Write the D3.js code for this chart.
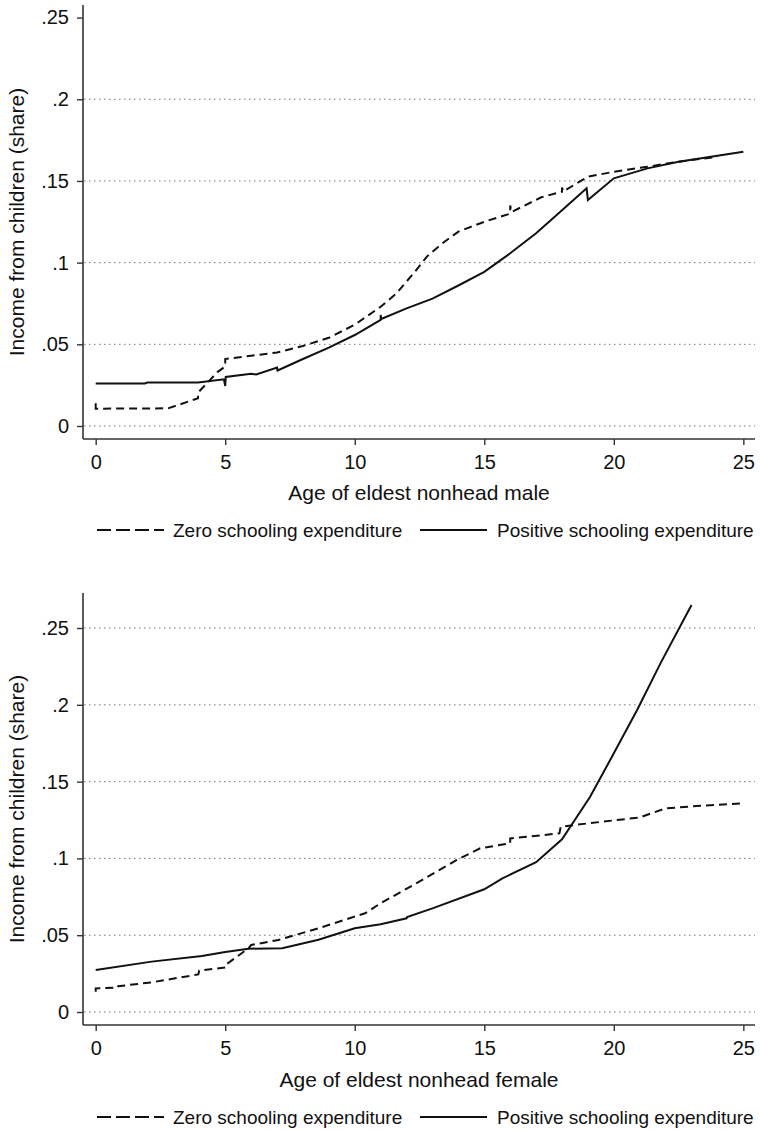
<!DOCTYPE html>
<html>
<head>
<meta charset="utf-8">
<script src="https://cdn.jsdelivr.net/npm/d3@7"></script>
<style>
  body { margin: 0; background: #fff; }
  svg { display: block; }
  text { font-family: "Liberation Sans", Arial, sans-serif; fill: #111; }
</style>
</head>
<body>
<svg id="chart" width="760" height="1130"></svg>
<script>
// ---------- DATA ----------
const xTicks = [0, 5, 10, 15, 20, 25];
const yTicksTop = [0, 0.05, 0.1, 0.15, 0.2, 0.25];
const yTickLabels = ["0", ".05", ".1", ".15", ".2", ".25"];
const yGridTop = [0, 0.05, 0.1, 0.15, 0.2];
const yGridBottom = [0, 0.05, 0.1, 0.15, 0.2, 0.25];
const seriesNames = ["Zero schooling expenditure", "Positive schooling expenditure"];
const yTitle = "Income from children (share)";
const xTitleTop = "Age of eldest nonhead male";
const xTitleBottom = "Age of eldest nonhead female";

// male panel: [age, share]
const maleZero = [
  [0,0.014],[0,0.0106],[2.8,0.0108],[3.3,0.0135],[3.95,0.017],[3.95,0.0204],
  [4.7,0.033],[5,0.0365],[5,0.041],[6,0.043],[7,0.045],[8,0.049],[9,0.054],
  [10,0.062],[11,0.073],[11.6,0.081],[12.3,0.094],[12.8,0.104],[13.4,0.112],
  [14,0.119],[15,0.125],[16,0.130],[16,0.135],[16.05,0.131],[17.2,0.140],
  [18,0.1434],[18,0.146],[18.05,0.1436],[19,0.1526],[20,0.1556],[21.3,0.1587],[22.5,0.1618],[24,0.1648]
];
const malePos = [
  [0,0.026],[1.9,0.026],[2,0.0267],[3.95,0.0267],[4.95,0.0286],[5,0.0245],
  [5.02,0.030],[6,0.032],[6.2,0.0315],[7,0.0357],[7.02,0.034],[8,0.041],
  [9,0.048],[10,0.0557],[11,0.065],[11,0.068],[11.02,0.0655],[12,0.072],[13,0.078],
  [14,0.086],[15,0.0944],[16,0.1057],[17,0.118],[18,0.132],[18.95,0.1455],
  [19,0.1383],[20,0.1516],[21.3,0.1577],[22.5,0.1618],[25,0.1679]
];
// female panel
const femaleZero = [
  [0,0.0132],[0,0.0154],[0.85,0.0158],[0.87,0.0168],[2.16,0.0193],[3.96,0.0245],
  [4,0.027],[5,0.029],[5,0.0305],[5.9,0.0415],[6,0.0436],[7.05,0.0469],
  [8.6,0.0545],[10.4,0.0643],[11,0.0708],[12.26,0.0827],[12.7,0.087],
  [13.94,0.099],[14.84,0.1066],[16,0.1098],[16,0.113],[17.9,0.1163],
  [17.95,0.1206],[19,0.1228],[21,0.1267],[22,0.1326],[23.2,0.1341],[25,0.1359]
];
const femalePos = [
  [0,0.0273],[2.16,0.0328],[4.1,0.0365],[5,0.039],[5.9,0.0412],[7.2,0.0415],
  [8.6,0.047],[10,0.0545],[11,0.0571],[12,0.061],[12.02,0.0618],[13,0.0675],
  [15,0.0799],[15.7,0.087],[17,0.0975],[18,0.1124],[19.08,0.140],[20,0.1684],
  [20.9,0.1966],[21.8,0.227],[23,0.265]
];

// ---------- DRAW ----------
const svg = d3.select("#chart");

function panel(cfg) {
  const x = d3.scaleLinear().domain([-0.49, 25.45]).range([83, 755]);
  const y = d3.scaleLinear().domain(cfg.yDomain).range([cfg.bottom, cfg.top]);
  const g = svg.append("g");

  // gridlines
  g.selectAll("line.grid").data(cfg.grid).enter().append("line")
    .attr("x1", 84).attr("x2", 755)
    .attr("y1", d => y(d)).attr("y2", d => y(d))
    .attr("stroke", "#777").attr("stroke-width", 1)
    .attr("stroke-dasharray", "1.5,3.5");

  // y axis
  const yAxis = d3.axisLeft(y).tickValues(yTicksTop)
    .tickFormat((d, i) => yTickLabels[i]).tickSize(6).tickPadding(8);
  const ya = g.append("g").attr("transform", "translate(83,0)").call(yAxis);
  ya.select(".domain").attr("d", `M0,${cfg.top}V${cfg.bottom}`);

  // x axis
  const xAxis = d3.axisBottom(x).tickValues(xTicks).tickSize(6).tickPadding(10);
  const xa = g.append("g").attr("transform", `translate(0,${cfg.bottom})`).call(xAxis);
  xa.select(".domain").attr("d", "M83,0H755");

  [ya, xa].forEach(a => {
    a.selectAll(".domain").attr("stroke", "#333").attr("stroke-width", 1.6);
    a.selectAll(".tick line").attr("stroke", "#333").attr("stroke-width", 1.4);
    a.selectAll(".tick text").style("font-size", "20px").attr("fill", "#111")
      .style("font-family", '"Liberation Sans", Arial, sans-serif');
  });

  // lines
  const line = d3.line().x(d => x(d[0])).y(d => y(d[1]));
  g.append("path").datum(cfg.zero).attr("d", line)
    .attr("fill", "none").attr("stroke", "#111").attr("stroke-width", 2)
    .attr("stroke-dasharray", "8,5");
  g.append("path").datum(cfg.pos).attr("d", line)
    .attr("fill", "none").attr("stroke", "#111").attr("stroke-width", 2);

  // titles
  g.append("text").attr("transform", `translate(24,${(cfg.top + cfg.bottom) / 2}) rotate(-90)`)
    .attr("text-anchor", "middle").style("font-size", "21px").text(yTitle);
  g.append("text").attr("x", 419).attr("y", cfg.xTitleY)
    .attr("text-anchor", "middle").style("font-size", "21px").text(cfg.xTitle);

  // legend
  const ly = cfg.legendY;
  g.append("line").attr("x1", 97).attr("x2", 164).attr("y1", ly).attr("y2", ly)
    .attr("stroke", "#111").attr("stroke-width", 2).attr("stroke-dasharray", "14,5");
  g.append("text").attr("x", 173).attr("y", ly + 7).style("font-size", "19px").text(seriesNames[0]);
  g.append("line").attr("x1", 420).attr("x2", 487).attr("y1", ly).attr("y2", ly)
    .attr("stroke", "#111").attr("stroke-width", 2);
  g.append("text").attr("x", 497).attr("y", ly + 7).style("font-size", "19px").text(seriesNames[1]);
}

panel({
  top: 5, bottom: 439, yDomain: [-0.00796, 0.2577], grid: yGridTop,
  zero: maleZero, pos: malePos, xTitle: xTitleTop, xTitleY: 500, legendY: 530
});
panel({
  top: 593, bottom: 1025, yDomain: [-0.00846, 0.2728], grid: yGridBottom,
  zero: femaleZero, pos: femalePos, xTitle: xTitleBottom, xTitleY: 1087, legendY: 1117
});
</script>
</body>
</html>
